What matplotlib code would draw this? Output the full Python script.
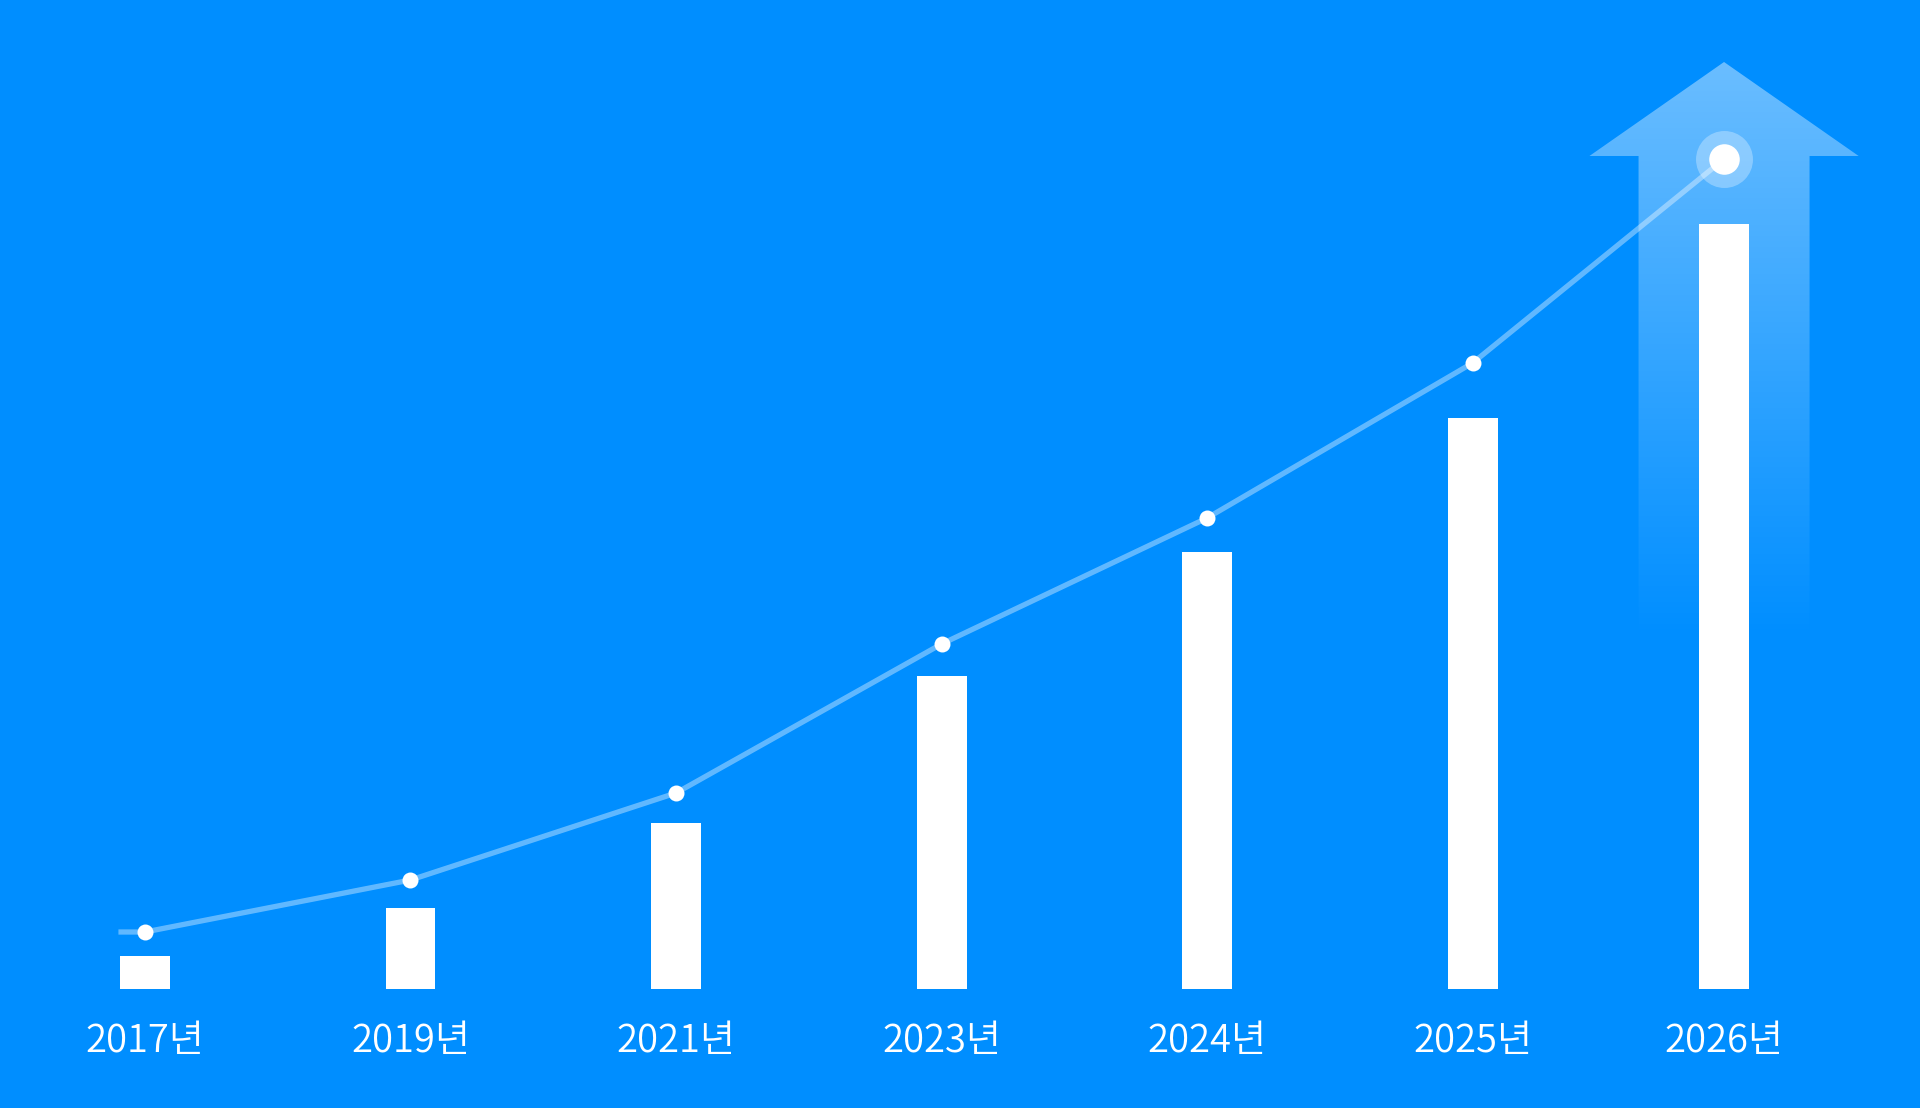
import matplotlib.pyplot as plt
import numpy as np
from matplotlib.patches import Polygon

# data (arbitrary units, baseline = 0)
years = ['2017년', '2019년', '2021년', '2023년', '2024년', '2025년', '2026년']
bar_values = [33, 81, 166, 313, 437, 571, 765]
line_values = [57, 109, 196, 345, 471, 626, 830]

# layout
x_pos = np.array([0, 1, 2, 3, 4, 5, 5.947])
bar_w = 0.188
bg = '#008EFF'

plt.rcParams['font.family'] = ['Noto Sans CJK JP', 'Noto Sans CJK KR', 'DejaVu Sans']

fig = plt.figure(figsize=(19.2, 11.08), dpi=100, facecolor=bg)
ax = fig.add_axes([0, 0, 1, 1])
ax.set_facecolor(bg)
ax.set_xlim(-0.546, 6.685)
ax.set_ylim(-119, 989)
ax.axis('off')

# big arrow behind the last bar, fading towards the bottom
tip_x = x_pos[-1]
head_w, shaft_w = 0.507, 0.322
tip_y, head_y, fade_y = 927, 833, 349
arrow_pts = [(tip_x, tip_y), (tip_x + head_w, head_y), (tip_x + shaft_w, head_y),
             (tip_x + shaft_w, 0), (tip_x - shaft_w, 0), (tip_x - shaft_w, head_y),
             (tip_x - head_w, head_y)]
arrow = Polygon(arrow_pts, closed=True, facecolor='none', edgecolor='none')
ax.add_patch(arrow)
yy = np.linspace(0, tip_y, 400)
alpha = np.clip((yy - fade_y) / (tip_y - fade_y), 0, 1) * 0.42
grad = np.zeros((len(yy), 2, 4))
grad[..., :3] = 1.0
grad[..., 3] = alpha[:, None]
im = ax.imshow(grad, extent=(tip_x - head_w, tip_x + head_w, 0, tip_y),
               origin='lower', aspect='auto', interpolation='bilinear', zorder=1)
im.set_clip_path(arrow)

# bars
ax.bar(x_pos, bar_values, width=bar_w, color='white', zorder=2)

# line with a short stub to the left of the first point
lx = np.concatenate([[x_pos[0] - 0.1], x_pos])
ly = np.concatenate([[line_values[0]], line_values])
ax.plot(lx, ly, color='white', alpha=0.38, lw=3.8, solid_capstyle='butt', zorder=3)
ax.plot(x_pos[:-1], line_values[:-1], 'o', color='white', ms=11.5, mec='none', zorder=4)

# highlighted last point
ax.plot(x_pos[-1], line_values[-1], 'o', color='white', alpha=0.3, ms=41, mec='none', zorder=4)
ax.plot(x_pos[-1], line_values[-1], 'o', color='white', ms=22, mec='none', zorder=5)

for x, lab in zip(x_pos, years):
    ax.text(x, -52, lab, color='white', fontsize=27.5, fontweight=350,
            ha='center', va='center', zorder=5)

plt.savefig('out.png', dpi=100, facecolor=bg)
